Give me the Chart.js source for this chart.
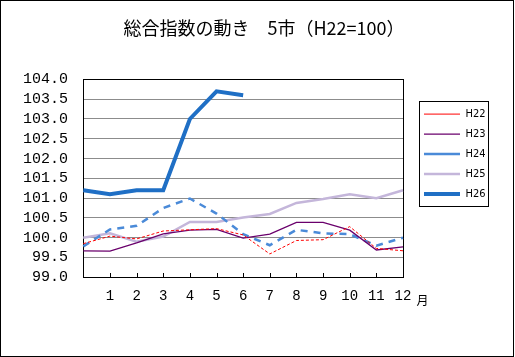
<!DOCTYPE html>
<html>
<head>
<meta charset="utf-8">
<script src="https://cdn.jsdelivr.net/npm/chart.js@4/dist/chart.umd.min.js"></script>
<style>
  html, body { margin: 0; padding: 0; background: #fff; }
  #wrap { width: 515px; height: 357px; }
</style>
</head>
<body>
<div id="wrap"><canvas id="c" width="515" height="357"></canvas></div>
<script>
// ---- data ----
const months = ['', '1', '2', '3', '4', '5', '6', '7', '8', '9', '10', '11', '12'];
const seriesNames = ['H22', 'H23', 'H24', 'H25', 'H26'];
const h22 = [99.85, 100.04, 99.97, 100.17, 100.2, 100.23, 100.07, 99.59, 99.93, 99.95, 100.28, 99.73, 99.67];
const h23 = [99.67, 99.66, 99.87, 100.1, 100.19, 100.21, 99.99, 100.09, 100.39, 100.39, 100.19, 99.69, 99.77];
const h24 = [99.78, 100.21, 100.3, 100.75, 100.99, 100.61, 100.09, 99.81, 100.2, 100.11, 100.09, 99.8, 100.0];
const h25 = [100.0, 100.11, 99.9, 100.03, 100.4, 100.4, 100.51, 100.6, 100.88, 100.98, 101.1, 101.0, 101.2];
const h26 = [101.2, 101.1, 101.2, 101.2, 103.0, 103.7, 103.6, null, null, null, null, null, null];
const yMin = 99.0, yMax = 104.0, yStep = 0.5;
const titleText = '総合指数の動き　5市（H22=100）';
const monthUnit = '月';

const framePlugin = {
  id: 'frames',
  afterLayout(chart) {
    // gap between plot area and legend
    chart.legend.left += 12;
    chart.legend.right += 12;
  },
  beforeDatasetsDraw(chart) {
    const a = chart.chartArea, ctx = chart.ctx;
    ctx.save();
    ctx.strokeStyle = '#000';
    ctx.lineWidth = 1;
    ctx.strokeRect(Math.round(a.left) + 0.5, Math.round(a.top) + 0.5,
                   Math.round(a.right) - Math.round(a.left), Math.round(a.bottom) - Math.round(a.top));
    // inner tick marks on the x axis
    const xs = chart.scales.x;
    ctx.beginPath();
    for (let i = 1; i < months.length - 1; i++) {
      const x = Math.round(xs.getPixelForTick(i)) + 0.5;
      ctx.moveTo(x, Math.round(a.bottom));
      ctx.lineTo(x, Math.round(a.bottom) - 4);
    }
    ctx.stroke();
    ctx.restore();
  },
  afterDraw(chart) {
    const ctx = chart.ctx;
    ctx.save();
    ctx.strokeStyle = '#000';
    ctx.lineWidth = 1;
    ctx.strokeRect(0.5, 0.5, 513, 356);
    const hb = chart.legend.legendHitBoxes;
    if (hb && hb.length) {
      const l = Math.round(hb[0].left - 5) + 0.5;
      const t = Math.round(hb[0].top - 7.5) + 0.5;
      const last = hb[hb.length - 1];
      const b = Math.round(last.top + last.height + 6) + 0.5;
      ctx.strokeRect(l, t, 69, b - t);
    }
    const xs = chart.scales.x;
    ctx.fillStyle = '#000';
    ctx.font = '12px "Noto Sans CJK JP", sans-serif';
    ctx.textAlign = 'center';
    ctx.textBaseline = 'middle';
    ctx.fillText(monthUnit, xs.right + 19.5, 300);
    ctx.restore();
  }
};

new Chart(document.getElementById('c'), {
  type: 'line',
  data: {
    labels: months,
    datasets: [
      { label: seriesNames[0], data: h22, borderColor: '#FF0000', borderWidth: 1, borderDash: [3, 2] },
      { label: seriesNames[1], data: h23, borderColor: '#6A006C', borderWidth: 1.3 },
      { label: seriesNames[2], data: h24, borderColor: '#4A8AD8', borderWidth: 2.5, borderDash: [7, 6] },
      { label: seriesNames[3], data: h25, borderColor: '#C4B6DA', borderWidth: 2.5 },
      { label: seriesNames[4], data: h26, borderColor: '#1F6FC5', borderWidth: 4 }
    ].map(d => Object.assign({ pointRadius: 0, pointHoverRadius: 0, tension: 0, fill: false, spanGaps: false }, d))
  },
  options: {
    responsive: false,
    animation: false,
    devicePixelRatio: 1,
    layout: { padding: { left: 7.7, right: -5.3, top: 0, bottom: 42.3 } },
    plugins: {
      tooltip: { enabled: false },
      title: {
        display: true,
        text: titleText,
        color: '#000',
        font: { family: '"Noto Sans CJK JP", sans-serif', size: 18, weight: 'normal' },
        padding: { top: 17.5, bottom: 40.3 }
      },
      legend: {
        display: true,
        position: 'right',
        align: 'start',
        fullSize: false,
        title: { display: true, text: '', font: { size: 1 }, padding: { top: 19, bottom: 0 } },
        labels: {
          usePointStyle: true,
          pointStyle: 'line',
          pointStyleWidth: 36,
          boxWidth: 36,
          padding: 9,
          color: '#000',
          font: { family: '"Liberation Sans Narrow", "DejaVu Sans Condensed", sans-serif', size: 11 }
        }
      }
    },
    scales: {
      x: {
        type: 'category',
        offset: false,
        grid: { display: false, drawTicks: false },
        border: { display: true, color: '#000', width: 1 },
        ticks: {
          color: '#000',
          padding: 10.3,
          maxRotation: 0,
          autoSkip: false,
          font: { family: '"Liberation Mono", "DejaVu Sans Mono"', size: 14 }
        },
        afterFit: s => { s.paddingRight = 112; }
      },
      y: {
        min: yMin,
        max: yMax,
        grid: { color: '#8c8c8c', drawTicks: false, lineWidth: 1 },
        border: { display: true, color: '#000', width: 1 },
        ticks: {
          stepSize: yStep,
          autoSkip: false,
          color: '#000',
          padding: 15.3,
          font: { family: '"Liberation Mono", "DejaVu Sans Mono"', size: 15 },
          callback: v => Number(v).toFixed(1)
        }
      }
    }
  },
  plugins: [framePlugin]
});
</script>
</body>
</html>
